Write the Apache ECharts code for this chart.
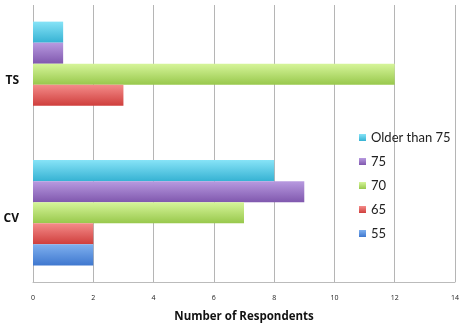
<!DOCTYPE html>
<html><head><meta charset="utf-8">
<script src="https://cdn.jsdelivr.net/npm/echarts@6/dist/echarts.min.js"></script>
<style>html,body{margin:0;padding:0;background:#fff}#c{width:466px;height:328px}</style>
</head><body><div id="c"></div>
<script>
const categories = ['CV', 'TS'];
const seriesNames = ['Older than 75', '75', '70', '65', '55'];
const vOlder = [8, 1];
const v75 = [9, 1];
const v70 = [7, 12];
const v65 = [2, 3];
const v55 = [2, 0];
const xTicks = [0, 2, 4, 6, 8, 10, 12, 14];

const values = [vOlder, v75, v70, v65, v55];
const colors = [
  ['#86e3f7', '#36b2d3'],
  ['#b89ae0', '#8058ae'],
  ['#d6f59a', '#98c84c'],
  ['#f48c8a', '#cf3e3c'],
  ['#7fb0ef', '#3f78cf']
];
function grad(c) {
  return new echarts.graphic.LinearGradient(0, 0, 0, 1, [
    {offset: 0, color: c[0]}, {offset: 1, color: c[1]}
  ]);
}
const chart = echarts.init(document.getElementById('c'));
chart.setOption({
  animation: false,
  grid: {left: 33, right: 11, top: 5, bottom: 33},
  legend: {
    orient: 'vertical', left: 354, top: 126, itemGap: 11,
    itemWidth: 7, itemHeight: 7, icon: 'rect',
    data: seriesNames.slice(),
    textStyle: {fontFamily: 'Lato', fontSize: 13, color: '#222'}
  },
  xAxis: {
    type: 'value', min: xTicks[0], max: xTicks[xTicks.length - 1], interval: 2,
    name: 'Number of Respondents', nameLocation: 'middle', nameGap: 29,
    nameTextStyle: {fontFamily: 'Open Sans', fontWeight: 'bold', fontSize: 11.5, color: '#111'},
    axisLine: {show: true, lineStyle: {color: '#bbb'}},
    axisTick: {show: false},
    axisLabel: {fontSize: 7, color: '#222', margin: 12, fontFamily: 'Open Sans'},
    splitLine: {show: true, lineStyle: {color: '#b5b5b5'}}
  },
  yAxis: {
    type: 'category', data: categories,
    axisLine: {show: false}, axisTick: {show: false},
    axisLabel: {fontFamily: 'Open Sans', fontWeight: 'bold', fontSize: 12, color: '#111', margin: 14, verticalAlign: 'top'}
  },
  series: seriesNames.map((n, i) => ({
    name: n, type: 'bar', data: values[i],
    barGap: '0%', barCategoryGap: '24%',
    itemStyle: {color: grad(colors[i])}
  }))
});
</script></body></html>
